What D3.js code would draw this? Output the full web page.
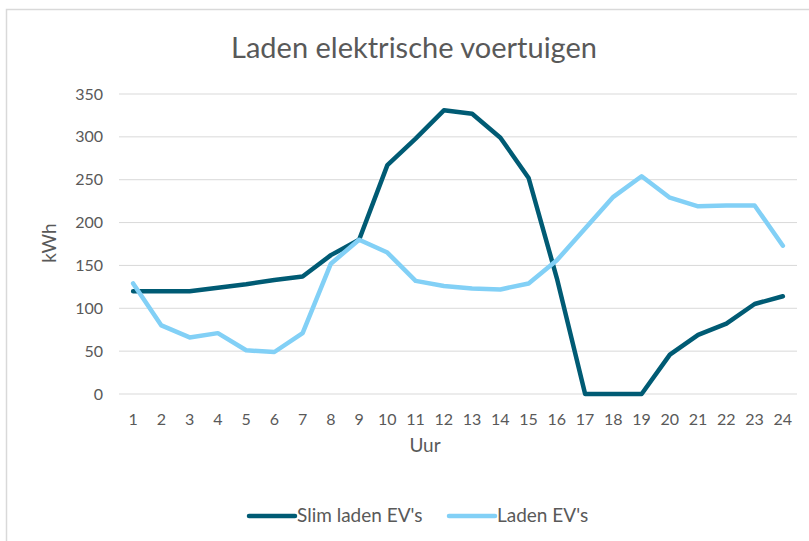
<!DOCTYPE html>
<html>
<head>
<meta charset="utf-8">
<script src="https://cdn.jsdelivr.net/npm/d3@7"></script>
<style>
	body { margin: 0; background: #fff; }
	text { font-family: Lato, "Open Sans", sans-serif; fill: #595959; }
</style>
</head>
<body>
<script>
// hours on the x axis
const hours = [1, 2, 3, 4, 5, 6, 7, 8, 9, 10, 11, 12, 13, 14, 15, 16, 17, 18, 19, 20, 21, 22, 23, 24]
// smart charging and normal charging, kWh per hour
const slimLaden = [120, 120, 120, 124, 128, 133, 137, 162, 180, 267, 298, 331, 327, 299, 252, 135, 0, 0, 0, 46, 69, 82, 105, 114]
const laden = [129, 80, 66, 71, 51, 49, 71, 152, 180, 165, 132, 126, 123, 122, 129, 156, 193, 230, 254, 229, 219, 220, 220, 173]
const yTicks = [0, 50, 100, 150, 200, 250, 300, 350]

const series = [
	{ name: "Slim laden EV's", values: slimLaden, color: "#005b74" },
	{ name: "Laden EV's", values: laden, color: "#82d0f6" }
]

const width = 809, height = 541
const margin = { top: 94, right: 12, bottom: 147, left: 119 }
const plotW = 797 - margin.left
const plotH = 394 - margin.top

const svg = d3.select("body").append("svg")
	.attr("width", width)
	.attr("height", height)

// chart frame
svg.append("rect")
	.attr("x", 6.5).attr("y", 9.5)
	.attr("width", 820).attr("height", 560)
	.attr("fill", "none")
	.attr("stroke", "#d9d9d9")
	.attr("stroke-width", 1.5)

const g = svg.append("g")
	.attr("transform", "translate(" + margin.left + "," + margin.top + ")")

const x = d3.scaleBand().domain(hours).range([0, plotW])
const y = d3.scaleLinear().domain([0, 350]).range([plotH, 0])

// gridlines
g.selectAll(".grid")
	.data(yTicks)
	.enter().append("line")
	.attr("x1", 0).attr("x2", plotW)
	.attr("y1", d => y(d)).attr("y2", d => y(d))
	.attr("stroke", "#d9d9d9")
	.attr("stroke-width", 1)

// y axis
const yAxis = g.append("g")
	.call(d3.axisLeft(y).tickValues(yTicks).tickSize(0).tickPadding(16))
yAxis.select(".domain").remove()
yAxis.selectAll("text").style("font-size", "16px").attr("fill", "#595959")

// x axis
const xAxis = g.append("g")
	.attr("transform", "translate(0," + plotH + ")")
	.call(d3.axisBottom(x).tickSize(0).tickPadding(20))
xAxis.select(".domain").remove()
xAxis.selectAll("text").style("font-size", "16px").attr("fill", "#595959")

// lines
const line = d3.line()
	.x((d, i) => x(hours[i]) + x.bandwidth() / 2)
	.y(d => y(d))

g.selectAll(".serie")
	.data(series)
	.enter().append("path")
	.attr("d", d => line(d.values))
	.attr("fill", "none")
	.attr("stroke", d => d.color)
	.attr("stroke-width", 4.5)
	.attr("stroke-linejoin", "round")
	.attr("stroke-linecap", "round")

// titles
svg.append("text")
	.attr("x", 414).attr("y", 58)
	.attr("text-anchor", "middle")
	.style("font-size", "29px")
	.text("Laden elektrische voertuigen")

svg.append("text")
	.attr("x", 425).attr("y", 452)
	.attr("text-anchor", "middle")
	.style("font-size", "19px")
	.text("Uur")

svg.append("text")
	.attr("transform", "translate(56,243) rotate(-90)")
	.attr("text-anchor", "middle")
	.style("font-size", "19px")
	.text("kWh")

// legend
const legend = svg.selectAll(".legend")
	.data(series)
	.enter().append("g")
	.attr("transform", (d, i) => "translate(" + (249 + i * 200) + ",516)")

legend.append("line")
	.attr("x1", 0).attr("x2", 46)
	.attr("stroke", d => d.color)
	.attr("stroke-width", 4.5)
	.attr("stroke-linecap", "round")

legend.append("text")
	.attr("x", 48).attr("y", 6)
	.style("font-size", "19px")
	.text(d => d.name)
</script>
</body>
</html>
